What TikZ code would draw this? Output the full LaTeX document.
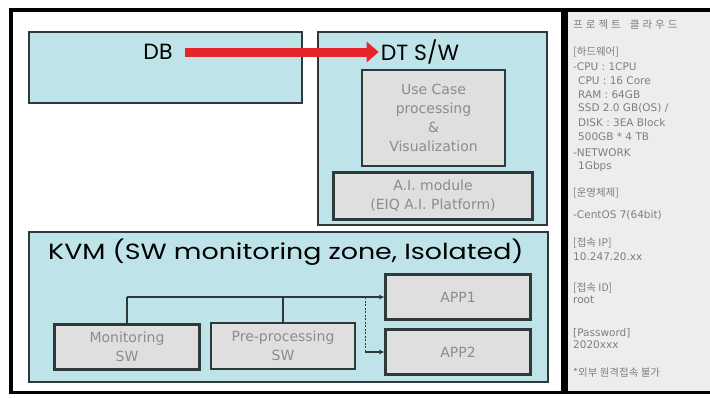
\documentclass[tikz,border=0pt]{standalone}
\usepackage{fontspec}
\setmainfont{Poppins}
\newfontfamily\krfont{Noto Sans CJK KR}
\newfontfamily\boxfont{DejaVu Sans}
\usetikzlibrary{arrows.meta,positioning}
\definecolor{zonefill}{HTML}{BEE4EA}
\definecolor{boxfill}{HTML}{DFDFDF}
\definecolor{edge}{HTML}{2E3A3A}
\definecolor{softtext}{HTML}{8C8C8C}
\definecolor{paneltext}{HTML}{7E7E7E}
\definecolor{panelfill}{HTML}{EDEDED}
\definecolor{flowred}{HTML}{E5252A}
\tikzset{
  zone/.style={draw=edge, line width=1.6pt, fill=zonefill},
  inner box/.style={draw=edge, line width=2.2pt, fill=boxfill, align=center,
    text=softtext, font=\boxfont\fontsize{14}{19}\selectfont, inner sep=0pt},
  big label/.style={font=\fontsize{22}{24}\selectfont, text=black, inner sep=0pt},
  link/.style={draw=edge, line width=1.2pt},
  tip/.style={-{Latex[length=5pt,width=5pt]}},
  panel line/.style={anchor=west, inner sep=0pt, text=paneltext,
    font=\krfont\fontsize{10.5}{12}\selectfont},
  panel latin/.style={panel line, font=\boxfont\fontsize{10.5}{12}\selectfont}
}
\begin{document}
\begin{tikzpicture}[x=1pt,y=-1pt]
\useasboundingbox (0,0) rectangle (710,397);
\fill[white] (0,0) rectangle (710,397);
% info panel on the right
\fill[panelfill] (565,10) rectangle (710,392);
% outer frame and divider
\draw[black, line width=4pt] (11,394) -- (11,10) -- (710,10);
\draw[black, line width=3pt] (11,392) -- (710,392);
\draw[black, line width=7pt] (564,10) -- (564,394);

% top zones
\draw[zone] (29,32) rectangle (302,103);
\draw[zone] (318,32) rectangle (547,225);
\node[big label] (db) at (158,52) {DB};
\node[big label] (dt) at (420,52) {DT S/W};
\draw[flowred, line width=9pt, -{Triangle[length=12pt,width=20pt]}]
  ([xshift=12pt]db.east) -- ([xshift=-2pt]dt.west);
\node[inner box, minimum width=143pt, minimum height=96pt] (usecase) at (433.5,118)
  {Use Case\\processing\\\&\\Visualization};
\node[inner box, minimum width=199pt, minimum height=47pt] (ai) at (433,196)
  {A.I. module\\(EIQ A.I. Platform)};

% KVM zone
\draw[zone] (29,232) rectangle (548,382);
\node[big label, anchor=west] (kvm) at (48,252)
  {\scalebox{1.22}[1]{KVM (SW monitoring zone, Isolated)}};
\node[inner box, minimum width=145pt, minimum height=45pt] (app1) at (458,297) {APP1};
\node[inner box, minimum width=145pt, minimum height=45pt] (app2) at (458,352) {APP2};
\node[inner box, minimum width=145pt, minimum height=45pt] (mon) at (127,347) {Monitoring\\SW};
\node[inner box, minimum width=144pt, minimum height=46pt] (pre) at (283,346) {Pre-processing\\SW};

\coordinate (bus) at (127,297);
\coordinate (split) at (365,297);
\draw[link] (mon.north) -- (bus);
\draw[link, line width=1.8pt] (pre.north) -- (pre.north |- bus);
\draw[link, tip] (bus) -- (app1.west);
\draw[link, dash pattern=on 2pt off 1.5pt, line width=0.8pt] (split) -- (split |- app2.west);
\draw[link, tip] (split |- app2.west) -- (app2.west);

% server details
\node[panel line] (t0) at (573,25)
  {프\hspace{3pt}로\hspace{3pt}젝\hspace{3pt}트\hspace{9pt}클\hspace{3pt}라\hspace{3pt}우\hspace{3pt}드};
\node[panel line] (t1) at (573,52) {[하드웨어]};
\node[panel latin] (t2) at (573,67) {-CPU : 1CPU};
\node[panel latin] (t3) at (578,81) {CPU : 16 Core};
\node[panel latin] (t4) at (578,95) {RAM : 64GB};
\node[panel latin] (t5) at (578,108) {SSD 2.0 GB(OS) /};
\node[panel latin] (t6) at (578,123) {DISK : 3EA Block};
\node[panel latin] (t7) at (578,137) {500GB * 4 TB};
\node[panel latin] (t8) at (573,153) {-NETWORK};
\node[panel latin] (t9) at (578,167) {1Gbps};
\node[panel line] (t10) at (573,193) {[운영체제]};
\node[panel latin] (t11) at (573,215) {-CentOS 7(64bit)};
\node[panel line] (t12) at (573,243) {[접속 IP]};
\node[panel latin] (t13) at (573,257) {10.247.20.xx};
\node[panel line] (t14) at (573,288) {[접속 ID]};
\node[panel latin] (t15) at (573,300) {root};
\node[panel latin] (t16) at (573,333) {[Password]};
\node[panel latin] (t17) at (573,345) {2020xxx};
\node[panel line] (t18) at (573,373) {*외부 원격접속 불가};
\end{tikzpicture}
\end{document}
